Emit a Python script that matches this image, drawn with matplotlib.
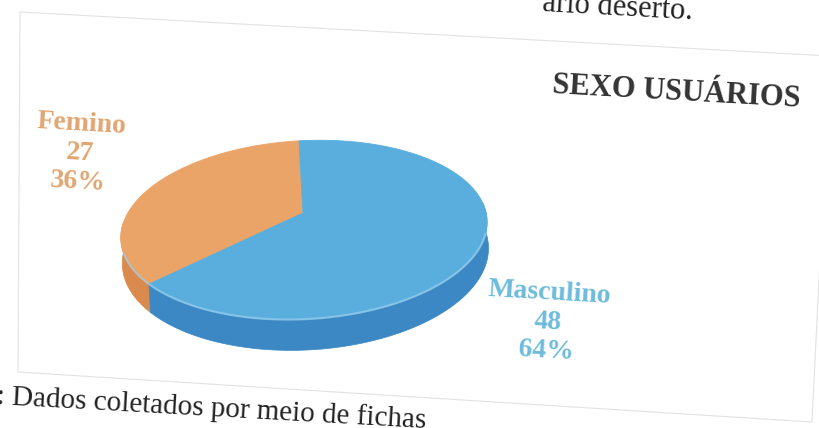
import numpy as np
import matplotlib.pyplot as plt
from matplotlib.patches import Polygon
from matplotlib.transforms import Affine2D

categories = ['Femino', 'Masculino']
counts = [27, 48]
top_colors = ['#EBA468', '#5AAEDD']
side_colors = ['#D98A4C', '#3B88C4']
label_colors = ['#E2A571', '#6DBBDB']

total = sum(counts)
pcts = [round(100 * c / total) for c in counts]

# pie geometry in pixels (y goes down), with a simple perspective factor
cx, cy = 303, 213
rx, ry = 180, 86
persp = 0.19
depth = 25
tilt = 3.2

fig = plt.figure(figsize=(8.2, 4.28), dpi=100)
ax = fig.add_axes([0, 0, 1, 1])
ax.set_xlim(0, 820)
ax.set_ylim(428, 0)
ax.axis('off')

rot = Affine2D().rotate_deg_around(cx, cy, -tilt) + ax.transData


def pt(t, dy=0.0):
    u, v = np.cos(t), np.sin(t)
    w = 1 + persp * v
    return cx + rx * u / w, cy - ry * v / w + dy / w


# slice angle ranges, counterclockwise from the top
angles = []
start = 90.0
for c in counts:
    span = 360.0 * c / total
    angles.append((start, start + span))
    start += span

# side walls (front half only)
for (a0, a1), col in zip(angles, side_colors):
    for shift in (0, 360, -360):
        l, h = max(a0 + shift, 180), min(a1 + shift, 360)
        if h > l:
            t = np.radians(np.linspace(l, h, 120))
            xs, ys = pt(t)
            xb, yb = pt(t[::-1], depth)
            poly = np.column_stack([np.r_[xs, xb], np.r_[ys, yb]])
            ax.add_patch(Polygon(poly, closed=True, fc=col, ec=col, lw=0.5, transform=rot))

# top faces
for (a0, a1), col in zip(angles, top_colors):
    t = np.radians(np.linspace(a0, a1, 200))
    xs, ys = pt(t)
    poly = np.column_stack([np.r_[cx, xs], np.r_[cy, ys]])
    ax.add_patch(Polygon(poly, closed=True, fc=col, ec=col, lw=0.6, transform=rot))

# light rim on the front edge
t = np.radians(np.linspace(200, 340, 120))
xs, ys = pt(t)
ax.plot(xs, ys, color='#9CD0EE', lw=1.5, alpha=0.7, transform=rot)

serif = 'Liberation Serif'
label_pos = [(80, 153), (548, 322)]
for cat, n, p, (lx, ly), col in zip(categories, counts, pcts, label_pos, label_colors):
    ax.text(lx, ly, f'{cat}\n{n}\n{p}%', color=col, fontsize=20, fontweight='bold',
            family=serif, ha='center', va='center', linespacing=1.22, rotation=-tilt)

ax.text(676, 92, 'SEXO USUÁRIOS', color='#333333', fontsize=22, fontweight='bold',
        family=serif, ha='center', va='center', rotation=-tilt)

# scanned page text around the figure
ax.text(618, 8, 'ário deserto.', color='#222222', fontsize=22, family=serif,
        ha='center', va='center', rotation=-tilt)
ax.text(-4, 409, ': Dados coletados por meio de fichas', color='#222222', fontsize=21,
        family=serif, ha='left', va='center', rotation=-tilt)

# faint chart frame
frame = np.array([[20, 12], [830, 56], [812, 422], [18, 372]])
ax.add_patch(Polygon(frame, closed=True, fill=False, ec='#E2E2E2', lw=0.8))

fig.savefig('out.png', dpi=100, facecolor='white')
